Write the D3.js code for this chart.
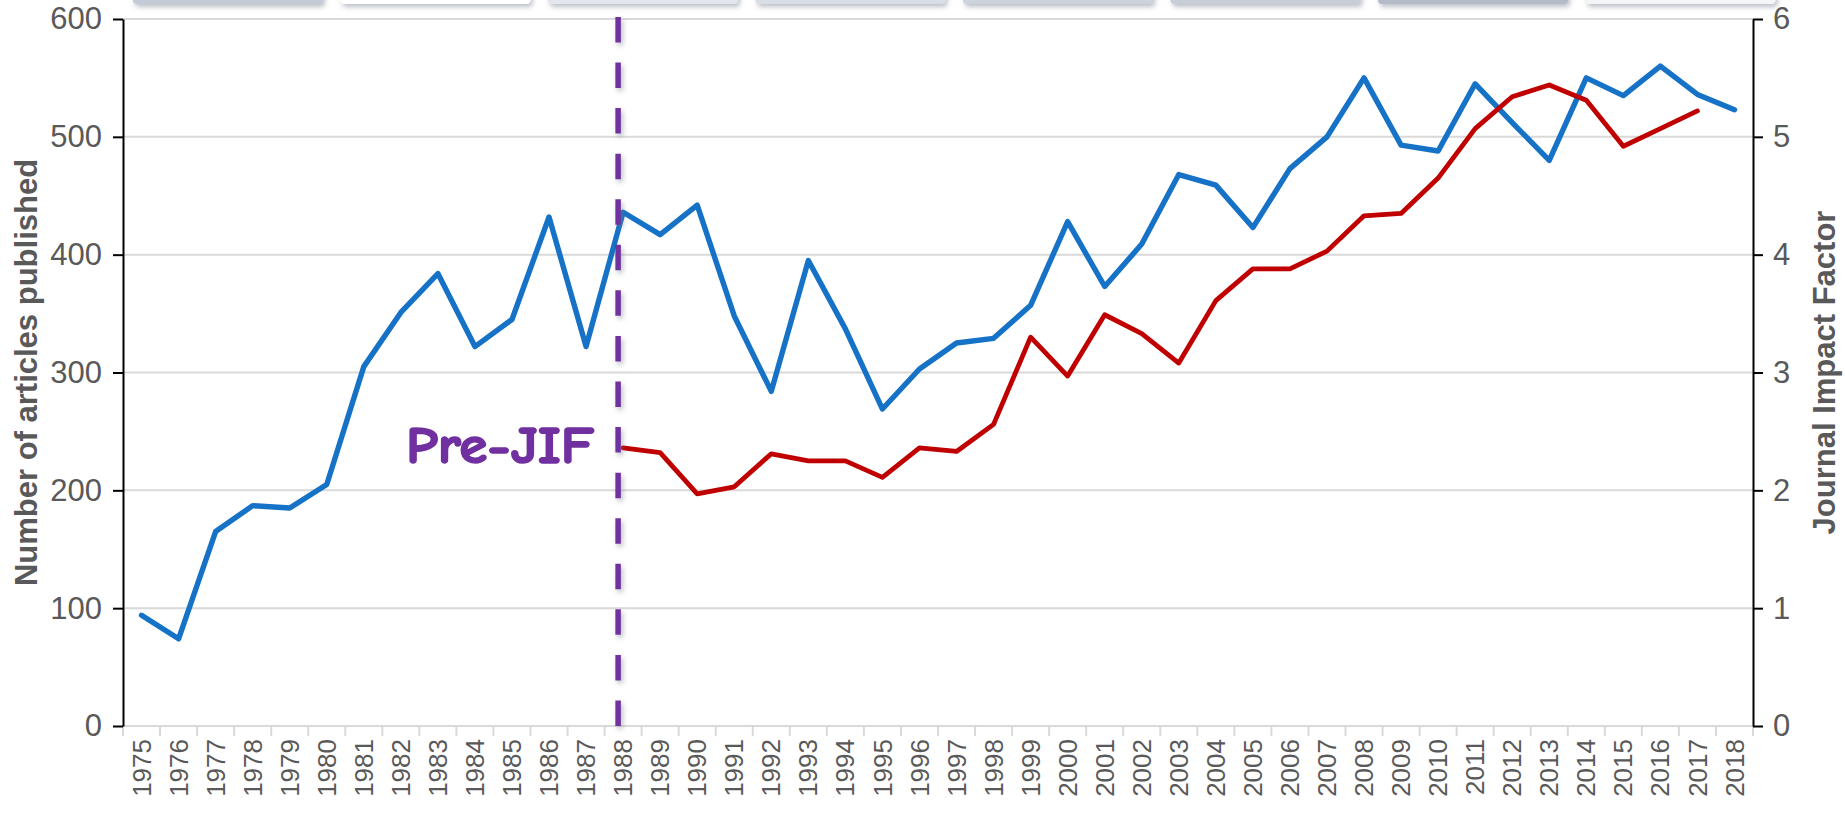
<!DOCTYPE html>
<html><head>
<meta charset="utf-8">
<title>Articles published and Journal Impact Factor</title>
<script src="https://cdnjs.cloudflare.com/ajax/libs/d3/7.8.5/d3.min.js"></script>
<style>
  body { margin: 0; background: #fff; }
  svg text { font-family: "Liberation Sans", Arial, sans-serif; fill: #595959; }
  .grid line { stroke: #d9d9d9; stroke-width: 2; }
  .axis path, .axis line { stroke: #000; stroke-width: 2; }
  .axis text { font-size: 31px; }
  .xlabels text { font-size: 26px; }
  .title { font-size: 31px; font-weight: bold; }
</style>
</head>
<body>
<svg id="chart" width="1845" height="815"></svg>
<script>

// categories
let years = ["1975","1976","1977","1978","1979","1980","1981","1982","1983","1984","1985",
  "1986","1987","1988","1989","1990","1991","1992","1993","1994","1995","1996","1997",
  "1998","1999","2000","2001","2002","2003","2004","2005","2006","2007","2008","2009",
  "2010","2011","2012","2013","2014","2015","2016","2017","2018"];

// number of articles published (left axis)
let articles = [94, 74, 165, 187, 185, 205, 305, 351, 384, 322, 345,
  432, 322, 436, 417, 442, 348, 284, 395, 337, 269, 303, 325,
  329, 357, 428, 373, 409, 468, 459, 423, 473, 500, 550, 493,
  488, 545, 512, 480, 550, 535, 560, 536, 523];

// journal impact factor (right axis), no JIF before 1988 and for 2018
let jif = [null, null, null, null, null, null, null, null, null, null, null,
  null, null, 2.36, 2.32, 1.97, 2.03, 2.31, 2.25, 2.25, 2.11, 2.36, 2.33,
  2.56, 3.30, 2.97, 3.49, 3.33, 3.08, 3.61, 3.88, 3.88, 4.03, 4.33, 4.35,
  4.65, 5.07, 5.34, 5.44, 5.31, 4.92, 5.07, 5.22, null];

let leftTicks = [0, 100, 200, 300, 400, 500, 600];
let rightTicks = [0, 1, 2, 3, 4, 5, 6];
let jifStart = "1988";

// 1. Housekeeping
let svg = d3.select("svg#chart");
let margin = { top: 19, left: 123, right: 1753, bottom: 726 };

let x = d3.scaleBand().domain(years).range([margin.left, margin.right]);
let yLeft = d3.scaleLinear().domain([0, 600]).range([margin.bottom, margin.top]);
let yRight = d3.scaleLinear().domain([0, 6]).range([margin.bottom, margin.top]);
let bw = x.bandwidth();

// soft shadow (user space so that a thin vertical line still gets it)
let defs = svg.append("defs");
let shadow = defs.append("filter").attr("id", "shadow")
  .attr("filterUnits", "userSpaceOnUse")
  .attr("x", -20).attr("y", -20).attr("width", 1885).attr("height", 855);
shadow.append("feDropShadow").attr("dx", 2).attr("dy", 3).attr("stdDeviation", 2.5)
  .attr("flood-color", "#6b7385").attr("flood-opacity", 0.45);

// leftover boxes cut off at the very top of the picture
let topBoxes = ["#c4cad6", "#ffffff", "#e3e6ec", "#d9dde5", "#cdd2dc", "#c8cdd8", "#b4bbc8", "#f4f5f7"];
svg.append("g").selectAll("rect").data(topBoxes).join("rect")
  .attr("x", (d, i) => 133 + i * 207.5)
  .attr("y", -12).attr("width", 190).attr("height", 16).attr("rx", 4)
  .attr("fill", d => d)
  .attr("filter", "url(#shadow)");

// 2. Gridlines
svg.append("g").attr("class", "grid")
  .selectAll("line").data(leftTicks).join("line")
  .attr("x1", margin.left).attr("x2", margin.right)
  .attr("y1", d => yLeft(d)).attr("y2", d => yLeft(d));

// category ticks on the x axis (at band edges)
let edges = years.map(d => x(d)).concat([margin.right]);
svg.append("g").attr("class", "grid")
  .selectAll("line").data(edges).join("line")
  .attr("x1", d => d).attr("x2", d => d)
  .attr("y1", margin.bottom).attr("y2", margin.bottom + 10);

// x labels rotated
svg.append("g").attr("class", "xlabels")
  .selectAll("text").data(years).join("text")
  .attr("transform", d => "translate(" + (x(d) + bw / 2) + "," + (margin.bottom + 13) + ") rotate(-90)")
  .attr("text-anchor", "end")
  .attr("dy", "0.35em")
  .text(d => d);

// 3. Axes
let leftAxis = d3.axisLeft(yLeft).tickValues(leftTicks).tickSize(10).tickSizeOuter(0).tickPadding(11);
svg.append("g").attr("class", "axis")
  .attr("transform", "translate(" + margin.left + ",0)")
  .call(leftAxis);

let rightAxis = d3.axisRight(yRight).tickValues(rightTicks).tickFormat(d3.format("d"))
  .tickSize(10).tickSizeOuter(0).tickPadding(10);
svg.append("g").attr("class", "axis")
  .attr("transform", "translate(" + margin.right + ",0)")
  .call(rightAxis);

svg.selectAll(".axis text").attr("fill", "#595959");

// axis titles
let midY = (margin.top + margin.bottom) / 2;
svg.append("text").attr("class", "title")
  .attr("transform", "translate(26," + midY + ") rotate(-90)")
  .attr("text-anchor", "middle").attr("dominant-baseline", "central")
  .text("Number of articles published");

svg.append("text").attr("class", "title")
  .attr("transform", "translate(1824," + midY + ") rotate(-90)")
  .attr("text-anchor", "middle").attr("dominant-baseline", "central")
  .text("Journal Impact Factor");

// 4. Lines
let articleLine = d3.line()
  .x((d, i) => x(years[i]) + bw / 2)
  .y(d => yLeft(d));

let jifLine = d3.line()
  .defined(d => d !== null)
  .x((d, i) => x(years[i]) + bw / 2)
  .y(d => yRight(d));

svg.append("path").datum(articles)
  .attr("d", articleLine)
  .attr("fill", "none").attr("stroke", "#1572c6").attr("stroke-width", 5.4)
  .attr("stroke-linejoin", "round").attr("stroke-linecap", "round");

svg.append("path").datum(jif)
  .attr("d", jifLine)
  .attr("fill", "none").attr("stroke", "#c00000").attr("stroke-width", 4.8)
  .attr("stroke-linejoin", "round").attr("stroke-linecap", "round");

// 5. Pre-JIF marker (dashes drawn from the axis upward so one ends on it)
let markX = x(jifStart) + bw / 2 - 5;
svg.append("line")
  .attr("x1", markX).attr("x2", markX)
  .attr("y1", margin.bottom).attr("y2", 17)
  .attr("stroke", "#7030a0").attr("stroke-width", 5.5)
  .attr("stroke-dasharray", "25.5,20.07")
  .attr("filter", "url(#shadow)");

svg.append("text")
  .attr("x", markX - 212).attr("y", 463)
  .attr("textLength", 188).attr("lengthAdjust", "spacingAndGlyphs")
  .style("font-family", "'Comic Sans MS', 'Comic Neue', 'DejaVu Sans', sans-serif")
  .style("font-weight", "bold").style("font-size", "52px")
  .style("fill", "#7030a0").style("stroke", "#7030a0").style("stroke-width", 1.6)
  .text("Pre-JIF");

</script>
</body>
</html>
